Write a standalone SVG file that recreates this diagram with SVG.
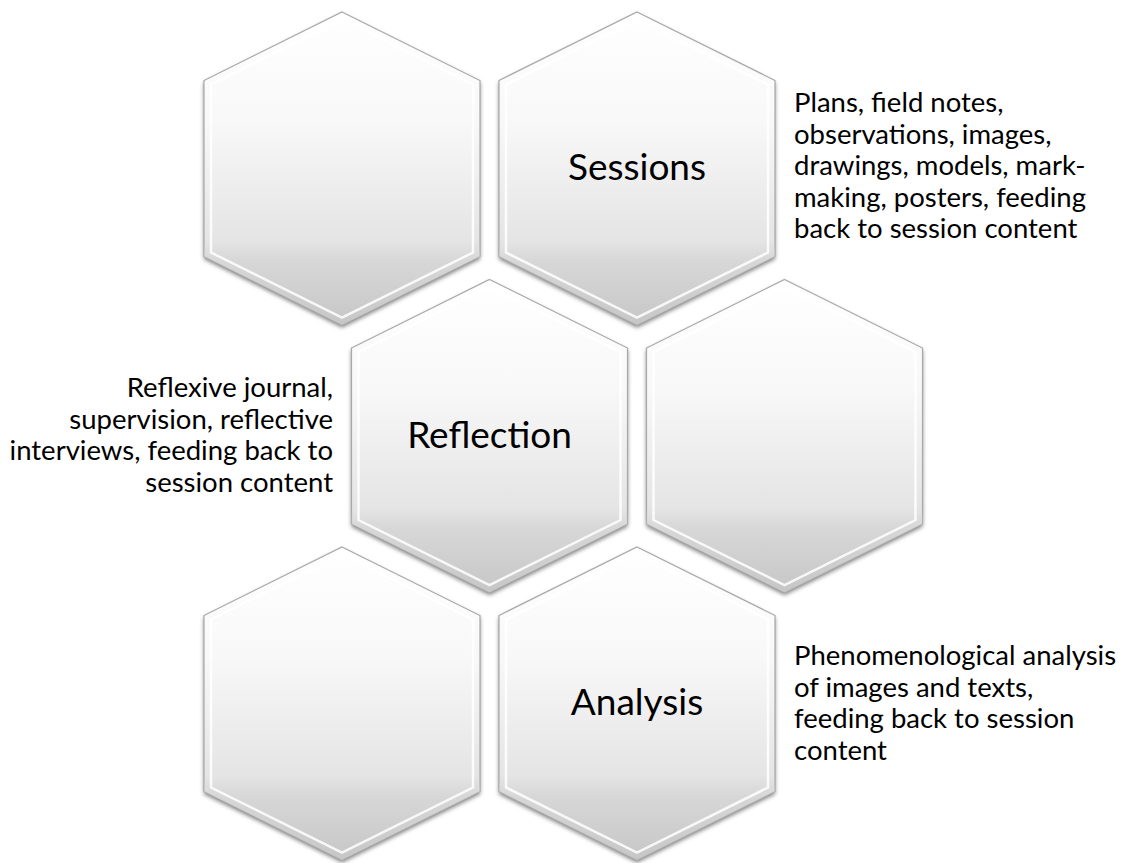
<svg xmlns="http://www.w3.org/2000/svg" xmlns:xlink="http://www.w3.org/1999/xlink" width="1121" height="863" viewBox="0 0 1121 863">
  <defs>
    <!-- pointy-top hexagon centred on the origin -->
    <path id="hex" d="M0,-156.5 L138,-88 L138,88 L0,156.5 L-138,88 L-138,-88 Z"/>
    <path id="hexInner" d="M0,-149 L131,-84 L131,84 L0,149 L-131,84 L-131,-84 Z"/>
    <!-- darker lower facet below the side corners -->
    <path id="hexFoot" d="M-138,72 L138,72 L138,88 L0,156.5 L-138,88 Z"/>
    <linearGradient id="hexFill" x1="0" y1="0" x2="0" y2="1">
      <stop offset="0" stop-color="#ffffff"/>
      <stop offset="0.35" stop-color="#f8f8f8"/>
      <stop offset="0.70" stop-color="#e6e6e6"/>
      <stop offset="1" stop-color="#dadada"/>
    </linearGradient>
    <linearGradient id="footFill" x1="0" y1="0" x2="0" y2="1">
      <stop offset="0" stop-color="#d2d2d2" stop-opacity="0"/>
      <stop offset="0.25" stop-color="#d2d2d2" stop-opacity="0.7"/>
      <stop offset="1" stop-color="#c4c4c4" stop-opacity="0.9"/>
    </linearGradient>
    <filter id="soft" x="-10%" y="-10%" width="120%" height="125%">
      <feGaussianBlur stdDeviation="2.2"/>
    </filter>
    <style>
      .shadow { fill: #5e5e5e; opacity: 0.8; filter: url(#soft); }
      .body { fill: url(#hexFill); stroke: #a8a8a8; stroke-width: 1.2; }
      .foot { fill: url(#footFill); }
      .bevel { fill: none; stroke: #ffffff; stroke-width: 2.5; opacity: 0.85; }
      .label { font-family: Lato, "Liberation Sans", sans-serif; font-size: 37px; fill: #000000; text-anchor: middle; }
      .note { font-family: Lato, "Liberation Sans", sans-serif; font-size: 27.5px; fill: #000000; }
      .noteR { text-anchor: end; }
    </style>
  </defs>

  <rect width="1121" height="863" fill="#ffffff"/>

  <!-- top row -->
  <g id="hex-top-left" transform="translate(342,168.5)">
    <use xlink:href="#hex" class="shadow" transform="translate(0,2.5)"/>
    <use xlink:href="#hex" class="body"/>
    <use xlink:href="#hexFoot" class="foot"/>
    <use xlink:href="#hexInner" class="bevel"/>
  </g>

  <g id="node-sessions" transform="translate(637,168.5)">
    <use xlink:href="#hex" class="shadow" transform="translate(0,2.5)"/>
    <use xlink:href="#hex" class="body"/>
    <use xlink:href="#hexFoot" class="foot"/>
    <use xlink:href="#hexInner" class="bevel"/>
    <text class="label" x="0" y="11.5">Sessions</text>
  </g>
  <g id="note-sessions" class="note">
    <text x="794" y="112">Plans, field notes,</text>
    <text x="794" y="143.5">observations, images,</text>
    <text x="794" y="175">drawings, models, mark-</text>
    <text x="794" y="206.5">making, posters, feeding</text>
    <text x="794" y="238">back to session content</text>
  </g>

  <!-- middle row -->
  <g id="node-reflection" transform="translate(489.5,436)">
    <use xlink:href="#hex" class="shadow" transform="translate(0,2.5)"/>
    <use xlink:href="#hex" class="body"/>
    <use xlink:href="#hexFoot" class="foot"/>
    <use xlink:href="#hexInner" class="bevel"/>
    <text class="label" x="0" y="11.5">Reflection</text>
  </g>
  <g id="note-reflection" class="note noteR">
    <text x="333" y="397">Reflexive journal,</text>
    <text x="333" y="428.5">supervision, reflective</text>
    <text x="333" y="460">interviews, feeding back to</text>
    <text x="333" y="491.5">session content</text>
  </g>

  <g id="hex-middle-right" transform="translate(784.5,436)">
    <use xlink:href="#hex" class="shadow" transform="translate(0,2.5)"/>
    <use xlink:href="#hex" class="body"/>
    <use xlink:href="#hexFoot" class="foot"/>
    <use xlink:href="#hexInner" class="bevel"/>
  </g>

  <!-- bottom row -->
  <g id="hex-bottom-left" transform="translate(342,703.5)">
    <use xlink:href="#hex" class="shadow" transform="translate(0,2.5)"/>
    <use xlink:href="#hex" class="body"/>
    <use xlink:href="#hexFoot" class="foot"/>
    <use xlink:href="#hexInner" class="bevel"/>
  </g>

  <g id="node-analysis" transform="translate(637,703.5)">
    <use xlink:href="#hex" class="shadow" transform="translate(0,2.5)"/>
    <use xlink:href="#hex" class="body"/>
    <use xlink:href="#hexFoot" class="foot"/>
    <use xlink:href="#hexInner" class="bevel"/>
    <text class="label" x="0" y="11.5">Analysis</text>
  </g>
  <g id="note-analysis" class="note">
    <text x="794" y="665">Phenomenological analysis</text>
    <text x="794" y="696.5">of images and texts,</text>
    <text x="794" y="728">feeding back to session</text>
    <text x="794" y="759.5">content</text>
  </g>
</svg>
